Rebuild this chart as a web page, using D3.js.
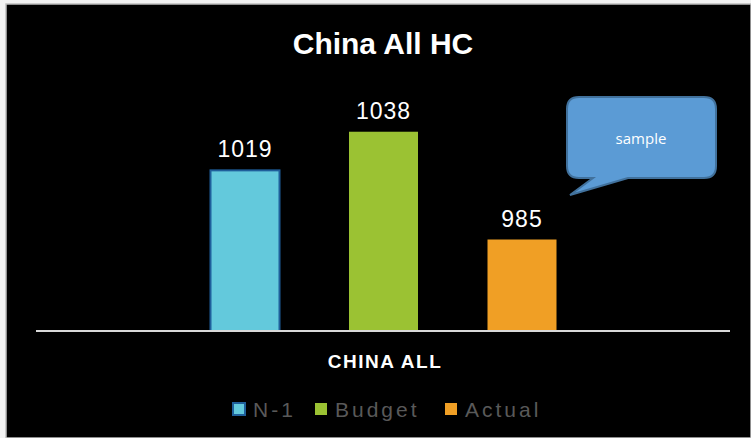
<!DOCTYPE html>
<html>
<head>
<meta charset="utf-8">
<script src="https://cdn.jsdelivr.net/npm/d3@7"></script>
<style>
  body { margin: 0; background: #f2f2f2; }
  svg { display: block; }
</style>
</head>
<body>
<svg id="chart" width="751" height="438"></svg>
<script>
// data
const series = ["N-1", "Budget", "Actual"];
const values = [1019, 1038, 985];
const category = "CHINA ALL";
const colors = ["#63c9dc", "#9bc233", "#f09f25"];
const strokes = ["#1f5f9b", "none", "none"];

const width = 751, height = 438;
const plot = { left: 36, right: 730, top: 87, bottom: 331 };

const svg = d3.select("#chart");

// background + frame
svg.append("rect")
    .attr("x", 6).attr("y", 4)
    .attr("width", width - 6).attr("height", height - 4)
    .attr("fill", "#000")
    .attr("stroke", "#bfbfbf")
    .attr("stroke-width", 1.5);

// title
svg.append("text")
    .attr("x", 383).attr("y", 54)
    .attr("text-anchor", "middle")
    .attr("font-family", "Liberation Sans, Arial, sans-serif")
    .attr("font-weight", "bold")
    .attr("font-size", 30)
    .attr("fill", "#fff")
    .text("China  All HC");

// scales
const x = d3.scalePoint()
    .domain(series)
    .range([plot.left + 209, plot.right - 208]);

const y = d3.scaleLinear()
    .domain([940, 1060])
    .range([plot.bottom, plot.top]);

const barW = 69;

const bars = svg.append("g");
bars.selectAll("rect")
    .data(values)
    .enter()
    .append("rect")
    .attr("x", (d, i) => x(series[i]) - barW / 2)
    .attr("y", d => y(d))
    .attr("width", barW)
    .attr("height", d => plot.bottom - y(d))
    .attr("fill", (d, i) => colors[i])
    .attr("stroke", (d, i) => strokes[i])
    .attr("stroke-width", 2);

// value labels
bars.selectAll("text")
    .data(values)
    .enter()
    .append("text")
    .attr("x", (d, i) => x(series[i]))
    .attr("y", d => y(d) - 13)
    .attr("text-anchor", "middle")
    .attr("font-family", "Liberation Sans, Arial, sans-serif")
    .attr("font-size", 23)
    .attr("letter-spacing", 1)
    .attr("fill", "#fff")
    .text(d => d);

// baseline
svg.append("line")
    .attr("x1", plot.left).attr("x2", plot.right)
    .attr("y1", plot.bottom).attr("y2", plot.bottom)
    .attr("stroke", "#d9d9d9")
    .attr("stroke-width", 2);

// category label
svg.append("text")
    .attr("x", 385).attr("y", 368)
    .attr("text-anchor", "middle")
    .attr("font-family", "Liberation Sans, Arial, sans-serif")
    .attr("font-weight", "bold")
    .attr("font-size", 19)
    .attr("letter-spacing", 1.5)
    .attr("fill", "#fff")
    .text(category);

// legend
const legendX = [233, 315, 445];
const legend = svg.append("g");
series.forEach((s, i) => {
    legend.append("rect")
        .attr("x", legendX[i]).attr("y", 403)
        .attr("width", 12).attr("height", 12)
        .attr("fill", colors[i])
        .attr("stroke", strokes[i])
        .attr("stroke-width", 2);
    legend.append("text")
        .attr("x", legendX[i] + 20).attr("y", 417)
        .attr("font-family", "Liberation Sans, Arial, sans-serif")
        .attr("font-size", 21)
        .attr("letter-spacing", 3)
        .attr("fill", "#595959")
        .text(s);
});

// callout
const callout = svg.append("g");
callout.append("path")
    .attr("d", "M579,97 H704 Q716,97 716,109 V166 Q716,178 704,178 H628 L570,195 L593,178 H579 Q567,178 567,166 V109 Q567,97 579,97 Z")
    .attr("fill", "#5b9bd5")
    .attr("stroke", "#41719c")
    .attr("stroke-width", 2);
callout.append("text")
    .attr("x", 641).attr("y", 144)
    .attr("text-anchor", "middle")
    .attr("font-family", "Open Sans, sans-serif")
    .attr("font-size", 15)
    .attr("fill", "#fff")
    .text("sample");
</script>
</body>
</html>
